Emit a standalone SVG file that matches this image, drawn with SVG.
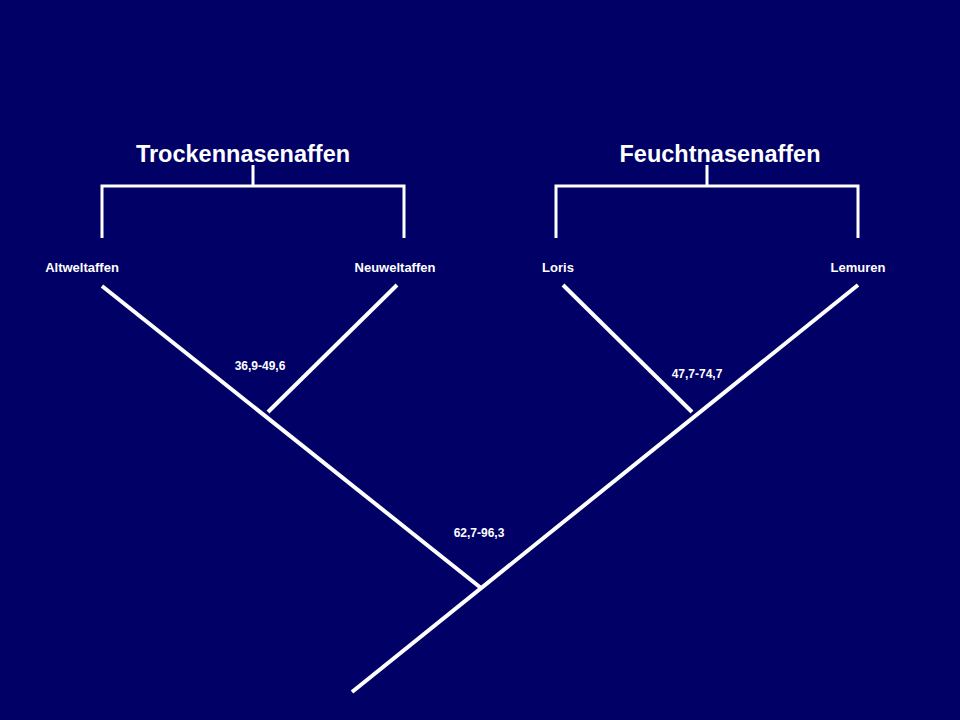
<svg xmlns="http://www.w3.org/2000/svg" width="960" height="720" viewBox="0 0 960 720">
<style>
.l{stroke:#fff;stroke-width:4;fill:none}
.b{stroke:#fff;stroke-width:3;fill:none}
.t{fill:#fff;font-family:"Liberation Sans",Arial,sans-serif;font-weight:bold;text-anchor:middle}
.h{font-size:23.5px}
.s{font-size:13px}
.n{font-size:12px}
</style>
<rect width="960" height="720" fill="#000066"/>
<g id="connectors">
<line class="l" x1="102" y1="286" x2="481" y2="588"/>
<line class="l" x1="352" y1="692" x2="858" y2="285"/>
<line class="l" x1="397" y1="285" x2="268" y2="412"/>
<line class="l" x1="563" y1="285" x2="692" y2="412"/>
</g>
<g id="trocken">
<path class="b" d="M102,238V186H404V238M253,186V165"/>
<text class="t h" x="243" y="162">Trockennasenaffen</text>
</g>
<g id="feucht">
<path class="b" d="M556,238V186H858V238M707,186V165"/>
<text class="t h" x="720" y="162">Feuchtnasenaffen</text>
</g>
<g id="altwelt"><text class="t s" x="82" y="272">Altweltaffen</text></g>
<g id="neuwelt"><text class="t s" x="395" y="272">Neuweltaffen</text></g>
<g id="loris"><text class="t s" x="558" y="272">Loris</text></g>
<g id="lemuren"><text class="t s" x="858" y="272">Lemuren</text></g>
<g id="n1"><text class="t n" x="260" y="370">36,9-49,6</text></g>
<g id="n2"><text class="t n" x="697" y="378">47,7-74,7</text></g>
<g id="n3"><text class="t n" x="479" y="537">62,7-96,3</text></g>
</svg>
